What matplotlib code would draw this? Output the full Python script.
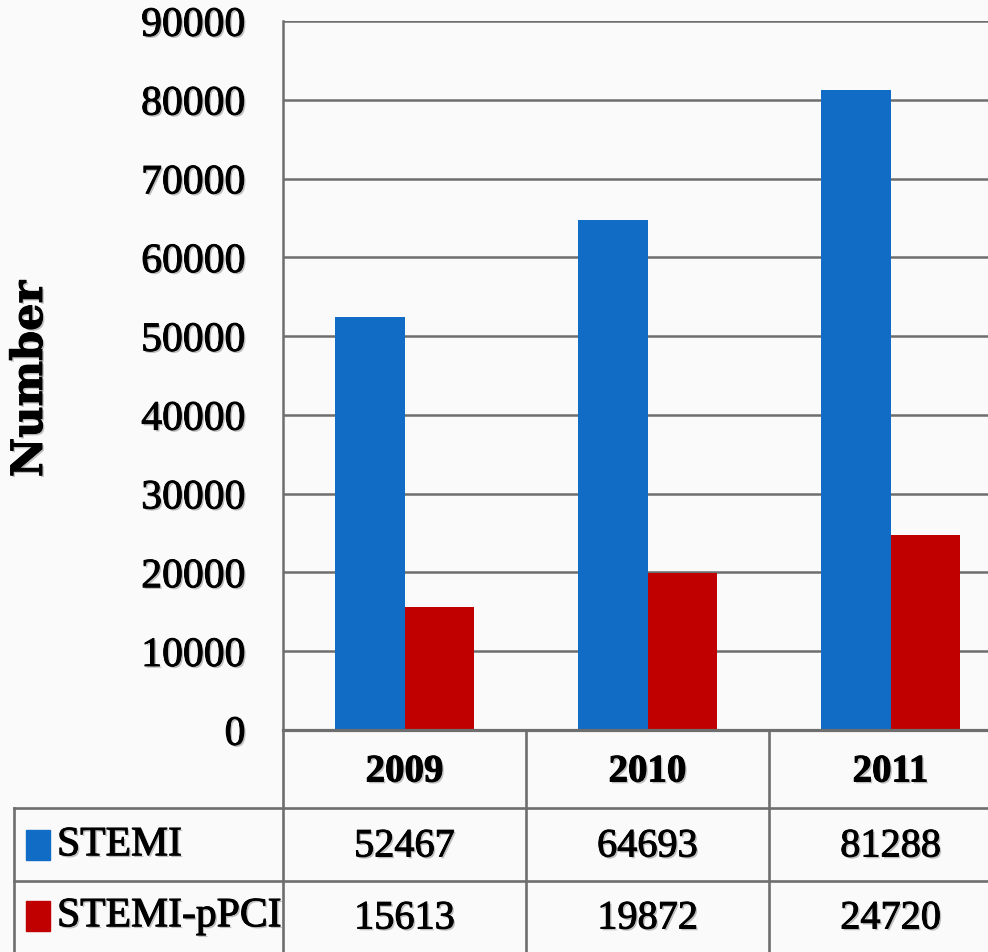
import matplotlib
matplotlib.use("Agg")
import matplotlib.pyplot as plt
import matplotlib.transforms as mtransforms
import matplotlib.patheffects as pe
from matplotlib.patches import Rectangle
from matplotlib.lines import Line2D
import numpy as np

# Data
years = ["2009", "2010", "2011"]
series_names = ["STEMI", "STEMI-pPCI"]
stemi = [52467, 64693, 81288]
stemi_ppci = [15613, 19872, 24720]
y_ticks = [0, 10000, 20000, 30000, 40000, 50000, 60000, 70000, 80000, 90000]
y_label = "Number"

W, H = 988, 953
BLUE = "#106cc4"
RED = "#c00000"
GRID = "#6e6e6e"
BG = "#fafafa"
SERIF = ["Liberation Serif", "DejaVu Serif"]

# soft drop shadow plus a slight stroke to give the heavier text look
shadow = [pe.SimplePatchShadow(offset=(1.3, -1.3), shadow_rgbFace="#777777", alpha=0.45),
          pe.Stroke(linewidth=0.7, foreground="black"),
          pe.Normal()]

fig = plt.figure(figsize=(W / 100, H / 100), dpi=100, facecolor=BG)

# pixel-based transform (origin top-left) for table layout
px = mtransforms.Affine2D().scale(1 / W, -1 / H).translate(0, 1) + fig.transFigure

# plot area: left 283, top 22, bottom 731; one category = 243 px wide
left, right, top, bottom = 283, 283 + 243 * 3, 22, 731
ax = fig.add_axes([left / W, 1 - bottom / H, (right - left) / W, (bottom - top) / H])
ax.set_facecolor("none")
ax.set_xlim(-0.5, 2.5)
ax.set_ylim(0, 90000)

x = np.arange(len(years))
bw = 0.287
ax.bar(x - bw / 2, stemi, width=bw, color=BLUE, zorder=3)
ax.bar(x + bw / 2, stemi_ppci, width=bw, color=RED, zorder=3)

ax.set_yticks(y_ticks)
ax.set_yticklabels([str(v) for v in y_ticks])
ax.set_xticks([])
ax.yaxis.grid(True, color=GRID, linewidth=1.8, zorder=1)
ax.set_axisbelow(True)
ax.tick_params(axis="y", length=0, pad=27)
for lab in ax.get_yticklabels():
    lab.set_fontfamily(SERIF)
    lab.set_fontsize(30)
    lab.set_path_effects(shadow)
for side in ["top", "right", "bottom"]:
    ax.spines[side].set_visible(False)
ax.spines["left"].set_color(GRID)
ax.spines["left"].set_linewidth(1.8)
ax.axhline(0, color=GRID, linewidth=2.3, zorder=4, clip_on=False)

fig.text(30 / W, 1 - 380 / H, y_label, rotation=90, ha="center", va="center",
         fontsize=31, fontweight="bold", family=["DejaVu Serif"], path_effects=shadow)

# data table below the plot
tx = mtransforms.blended_transform_factory(ax.transData, px)
row_lines = [809, 882]
table_bottom = 960
for yy in row_lines:
    fig.add_artist(Line2D([14, W + 30], [yy, yy], transform=px, color=GRID, linewidth=1.9))
fig.add_artist(Line2D([14, 14], [809, table_bottom], transform=px, color=GRID, linewidth=1.9))
fig.add_artist(Line2D([left, left], [bottom, table_bottom], transform=px, color=GRID, linewidth=1.9))
for b in x[:-1] + 0.5:
    fig.add_artist(Line2D([b, b], [bottom, table_bottom], transform=tx, color=GRID, linewidth=1.9))

for xi, yr in zip(x, years):
    fig.text(xi, 773, yr, transform=tx, ha="center", va="center", fontsize=28,
             fontweight="bold", family=SERIF, path_effects=shadow)
for row_y, vals in zip([848, 920], [stemi, stemi_ppci]):
    for xi, v in zip(x, vals):
        fig.text(xi, row_y, str(v), transform=tx, ha="center", va="center", fontsize=29,
                 family=SERIF, path_effects=shadow)

# row labels with colour keys
for row_y, name, col in zip([846, 917], series_names, [BLUE, RED]):
    fig.add_artist(Rectangle((26, row_y - 15), 24, 30, transform=px, color=col))
    fig.text(57 / W, 1 - row_y / H, name, ha="left", va="center", fontsize=30,
             family=SERIF, path_effects=shadow)

fig.savefig("out.png", dpi=100, facecolor=BG)
